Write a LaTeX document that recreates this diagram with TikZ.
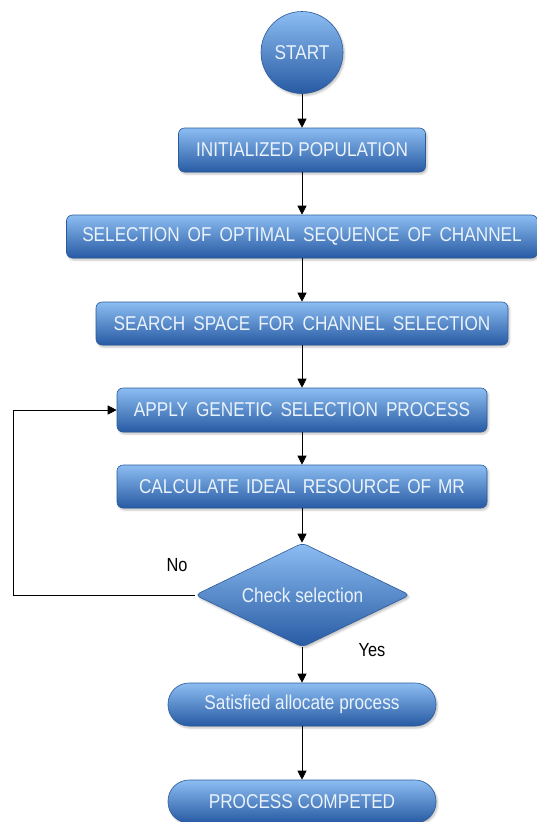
\documentclass[tikz,border=0pt]{standalone}
\usepackage{fontspec}
\setmainfont{Liberation Sans}[FakeStretch=0.86]
\usetikzlibrary{arrows.meta,shapes.geometric,shadows.blur}
\definecolor{boxtop}{HTML}{8CBDF2}
\definecolor{boxmid}{HTML}{4A87D2}
\definecolor{boxbot}{HTML}{275AA3}
\definecolor{boxline}{HTML}{2B5A9B}
\definecolor{boxtext}{HTML}{EAF2FB}
\newcommand{\boxfont}{\fontsize{20}{24}\selectfont}
\newcommand{\widefont}{\fontsize{20}{24}\selectfont\spaceskip=8pt\relax}
\newcommand{\midwfont}{\fontsize{20}{24}\selectfont\spaceskip=7pt\relax}
\tikzset{
  blueshape/.style={draw=boxline, line width=0.6pt, top color=boxtop, middle color=boxmid, bottom color=boxbot,
    text=boxtext, font=\boxfont, inner sep=0pt,
    blur shadow={shadow xshift=1.5pt, shadow yshift=-2pt, shadow opacity=25, shadow blur radius=2pt}},
  stepbox/.style={blueshape, rectangle, rounded corners=6pt, minimum height=43pt},
  termbox/.style={blueshape, rectangle, rounded corners=21pt, minimum height=43pt, minimum width=268pt},
  decbox/.style={blueshape, diamond, aspect=2.07, rounded corners=5pt, minimum width=215pt, minimum height=104pt},
  startbox/.style={blueshape, circle, minimum size=82pt},
  wide/.style={font=\widefont},
  midwide/.style={font=\midwfont},
  conn/.style={draw=black, line width=0.8pt, -{Triangle[length=9pt,width=9pt]}},
  lbl/.style={font=\fontsize{19}{22}\selectfont, text=black, inner sep=0pt}
}
\begin{document}
\begin{tikzpicture}[x=1pt,y=-1pt]
\useasboundingbox (0,0) rectangle (537,822);
\node[startbox] (start) at (302,52.5) {START};
\node[stepbox, minimum width=247pt, minimum height=44pt] (init) at (302,150) {INITIALIZED POPULATION};
\node[stepbox, wide, minimum width=471pt] (sel) at (302,236.5) {SELECTION OF OPTIMAL SEQUENCE OF CHANNEL};
\node[stepbox, wide, minimum width=412pt] (search) at (302,323.5) {SEARCH SPACE FOR CHANNEL SELECTION};
\node[stepbox, wide, minimum width=370pt, minimum height=44pt] (apply) at (302,410) {APPLY GENETIC SELECTION PROCESS};
\node[stepbox, midwide, minimum width=370pt] (calc) at (302,486.5) {CALCULATE IDEAL RESOURCE OF MR};
\node[decbox] (check) at (302.5,595) {Check selection};
\node[termbox] (sat) at (302,704.5) {Satisfied allocate process};
\node[termbox] (done) at (302,801.5) {PROCESS COMPETED};
\node[lbl] (no) at (177,565) {No};
\node[lbl] (yes) at (372,650) {Yes};
\coordinate (fb) at (13.5,595);
\draw[conn] (start.south) -- (init.north);
\draw[conn] (init.south) -- (sel.north);
\draw[conn] (sel.south) -- (search.north);
\draw[conn] (search.south) -- (apply.north);
\draw[conn] (apply.south) -- (calc.north);
\draw[conn] (calc.south) -- (check.north -| calc.south);
\draw[conn] (check.south -| sat.north) -- (sat.north);
\draw[conn] (sat.south) -- (done.north);
\draw[conn] (check.west) -- (fb) |- (apply.west);
\end{tikzpicture}
\end{document}
